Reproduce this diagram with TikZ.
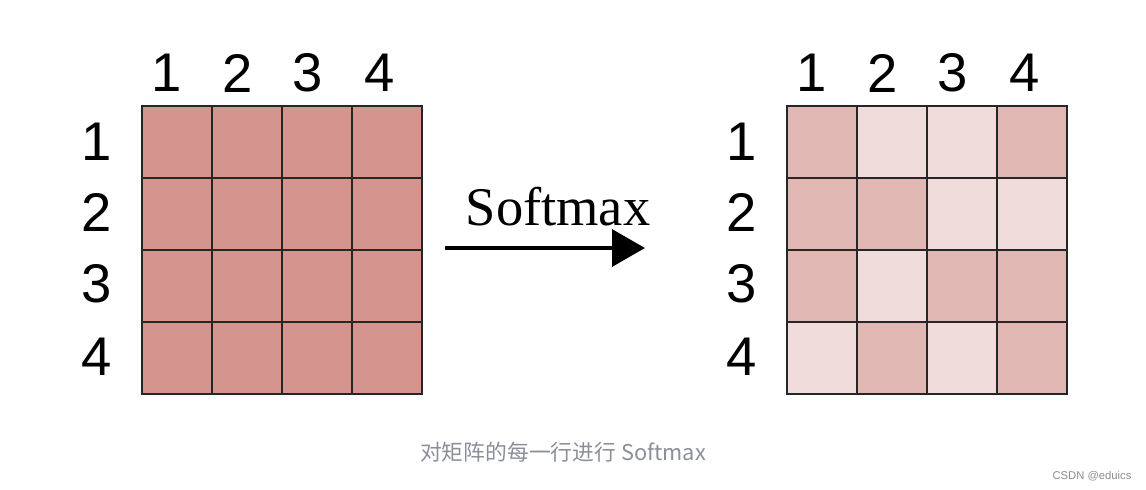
\documentclass[tikz,border=0pt]{standalone}
\usepackage{fontspec}
\setmainfont{Liberation Serif}
\newfontfamily\digitfont{Liberation Sans}
\newfontfamily\cjkfont{Noto Sans CJK SC}
\usetikzlibrary{arrows.meta}

\definecolor{cellfull}{HTML}{D5958F}
\definecolor{celldark}{HTML}{E1B7B4}
\definecolor{celllight}{HTML}{F0DCDB}
\definecolor{captiongray}{HTML}{8A8F99}

\tikzset{
    cell/.style={draw=black!85, line width=0.7pt, inner sep=0pt,
        minimum width=1.4cm, minimum height=1.44cm},
    idx/.style={font=\digitfont\fontsize{31}{31}\selectfont, inner sep=0pt},
}

\begin{document}
\begin{tikzpicture}[x=0.02cm, y=-0.02cm]
    \useasboundingbox (0,0) rectangle (1146,490);
    % left matrix, all the same
    \foreach \r in {1,...,4}
        \foreach \c in {1,...,4}
            \node[cell, fill=cellfull] (L-\r-\c) at ({142+70*(\c-0.5)},{106+72*(\r-0.5)}) {};
    % right matrix after softmax
    \foreach \r/\row in {1/{1,0,0,1}, 2/{1,1,0,0}, 3/{1,0,1,1}, 4/{0,1,0,1}}
        \foreach \v [count=\c] in \row {
            \ifnum\v=1 \def\shade{celldark}\else\def\shade{celllight}\fi
            \node[cell, fill=\shade] (R-\r-\c) at ({787+70*(\c-0.5)},{106+72*(\r-0.5)}) {};
        }
    % labels
    \foreach \i/\lx/\rx in {1/167/812, 2/238/883, 3/308/953, 4/380/1025} {
        \node[idx] (LC-\i) at (\lx,73) {\i};
        \node[idx] (RC-\i) at (\rx,73) {\i};
    }
    \foreach \i/\y in {1/142, 2/212, 3/284, 4/357} {
        \node[idx] (LR-\i) at (97,\y) {\i};
        \node[idx] (RR-\i) at (742,\y) {\i};
    }
    % arrow
    \node[font=\fontsize{31}{31}\selectfont, inner sep=0pt] (softmax) at (558,207) {Softmax};
    \coordinate (a-start) at (445,248);
    \coordinate (a-end) at (645,248);
    \draw[line width=2pt, -{Triangle[length=0.66cm, width=0.74cm]}] (a-start) -- (a-end);
    % caption
    \node[font=\cjkfont\fontsize{12.4}{12.4}\selectfont, text=captiongray] (caption) at (563,452) {对矩阵的每一行进行 Softmax};
    \node[font=\digitfont\fontsize{6.4}{6.4}\selectfont, text=black!45] (mark) at (1092,476) {CSDN @eduics};
\end{tikzpicture}
\end{document}
